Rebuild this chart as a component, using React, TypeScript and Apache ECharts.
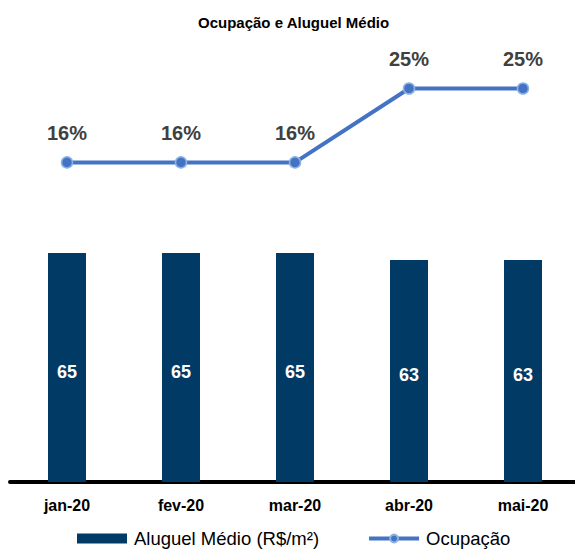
import React, { useEffect, useRef } from "react";
import * as echarts from "echarts";

const categories = ["jan-20", "fev-20", "mar-20", "abr-20", "mai-20"];
const aluguelMedio = [65, 65, 65, 63, 63];
const ocupacao = [16, 16, 16, 25, 25];

const FONT = "'Liberation Sans', Arial, sans-serif";

export default function App() {
  const ref = useRef<HTMLDivElement>(null);
  useEffect(() => {
    if (!ref.current) return;
    const chart = echarts.init(ref.current, undefined, { renderer: "svg" });
    chart.setOption({
      animation: false,
      textStyle: { fontFamily: FONT },
      title: {
        text: "Ocupação e Aluguel Médio",
        left: 193,
        top: 10,
        textStyle: { fontSize: 15, fontWeight: "bold", color: "#000", fontFamily: FONT },
      },
      legend: {
        left: 72,
        bottom: -3,
        itemWidth: 50,
        itemHeight: 10,
        itemGap: 48,
        textStyle: { fontSize: 18.5, color: "#000", fontFamily: FONT, padding: [0, 0, 0, 2] },
        data: [
          { name: "Aluguel Médio (R$/m²)", icon: "rect" },
          { name: "Ocupação", lineStyle: { width: 4 } },
        ],
      },
      grid: { left: 10, right: 5, top: 40, bottom: 68 },
      xAxis: {
        type: "category",
        data: categories,
        axisLine: { lineStyle: { color: "#000", width: 4 } },
        axisTick: { show: false },
        axisLabel: { fontSize: 16, fontWeight: "bold", color: "#000", margin: 15, fontFamily: FONT },
      },
      yAxis: [
        { type: "value", min: 0, max: 125.5, show: false, splitLine: { show: false } },
        { type: "value", min: -22.9, max: 30.9, show: false, splitLine: { show: false } },
      ],
      series: [
        {
          name: "Aluguel Médio (R$/m²)",
          type: "bar",
          data: aluguelMedio,
          barWidth: 38,
          itemStyle: { color: "#023A66" },
          label: {
            show: true,
            position: "inside",
            offset: [0, 4],
            color: "#fff",
            fontSize: 18,
            fontWeight: "bold",
            fontFamily: FONT,
          },
        },
        {
          name: "Ocupação",
          type: "line",
          yAxisIndex: 1,
          data: ocupacao,
          symbol: "circle",
          symbolSize: 11,
          lineStyle: { color: "#4472C4", width: 4 },
          itemStyle: { color: "#4472C4", borderColor: "#8DB3E2", borderWidth: 1.5 },
          label: {
            show: true,
            position: "top",
            distance: 13,
            formatter: "{c}%",
            color: "#404040",
            fontSize: 20,
            fontWeight: "bold",
            fontFamily: FONT,
          },
        },
      ],
    });
    return () => chart.dispose();
  }, []);
  return (
    <div style={{ position: "absolute", left: 0, top: 0, width: 575, height: 550, overflow: "hidden" }}>
      <div ref={ref} style={{ width: 585, height: 550 }} />
    </div>
  );
}
